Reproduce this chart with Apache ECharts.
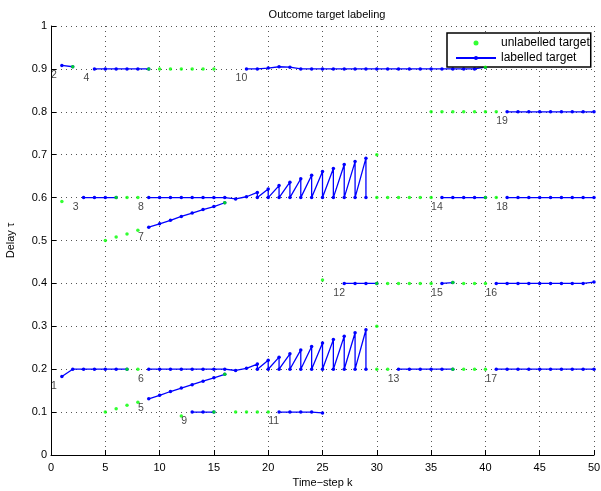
<!DOCTYPE html>
<html>
<head>
<meta charset="utf-8">
<script src="https://cdn.jsdelivr.net/npm/echarts@6/dist/echarts.min.js"></script>
<style>
html, body { margin: 0; padding: 0; background: #fff; }
#chart { width: 601px; height: 491px; }
</style>
</head>
<body>
<div id="chart"></div>
<script>
// Axis ticks
const kTicks = [0, 5, 10, 15, 20, 25, 30, 35, 40, 45, 50];
const tauTicks = [0, 0.1, 0.2, 0.3, 0.4, 0.5, 0.6, 0.7, 0.8, 0.9, 1];
const tauTickLabels = ['0', '0.1', '0.2', '0.3', '0.4', '0.5', '0.6', '0.7', '0.8', '0.9', '1'];

// Labelled tracks: [time-step k, delay tau]
const track1 = [[1,0.183],[2,0.2],[3,0.2],[4,0.2],[5,0.2],[6,0.2],[7,0.2]];
const track2 = [[1,0.908],[2,0.905]];
const track3 = [[3,0.6],[4,0.6],[5,0.6],[6,0.6]];
const track4 = [[4,0.9],[5,0.9],[6,0.9],[7,0.9],[8,0.9],[9,0.9]];
const track5 = [[9,0.131],[10,0.139],[11,0.148],[12,0.156],[13,0.164],[14,0.172],[15,0.180],[16,0.188]];
const track6 = [[9,0.2],[10,0.2],[11,0.2],[12,0.2],[13,0.2],[14,0.2],[15,0.2],[16,0.2],[17,0.197],[18,0.202],
  [19,0.212],[19,0.2],[20,0.221],[20,0.2],[21,0.228],[21,0.2],[22,0.236],[22,0.2],[23,0.245],[23,0.2],
  [24,0.253],[24,0.2],[25,0.261],[25,0.2],[26,0.269],[26,0.2],[27,0.277],[27,0.2],[28,0.285],[28,0.2],
  [29,0.292],[29,0.2]];
const track7 = [[9,0.531],[10,0.539],[11,0.547],[12,0.556],[13,0.564],[14,0.572],[15,0.579],[16,0.588]];
const track8 = [[9,0.6],[10,0.6],[11,0.6],[12,0.6],[13,0.6],[14,0.6],[15,0.6],[16,0.6],[17,0.597],[18,0.602],
  [19,0.612],[19,0.6],[20,0.62],[20,0.6],[21,0.628],[21,0.6],[22,0.636],[22,0.6],[23,0.644],[23,0.6],
  [24,0.652],[24,0.6],[25,0.661],[25,0.6],[26,0.668],[26,0.6],[27,0.677],[27,0.6],[28,0.684],[28,0.6],
  [29,0.692],[29,0.6]];
const track9 = [[13,0.1],[14,0.1],[15,0.1]];
const track10 = [[18,0.9],[19,0.9],[20,0.902],[21,0.905],[22,0.904],[23,0.9],[24,0.9],[25,0.9],[26,0.9],
  [27,0.9],[28,0.9],[29,0.9],[30,0.9],[31,0.9],[32,0.9],[33,0.9],[34,0.9],[35,0.9],[36,0.9],[37,0.9],
  [38,0.9],[39,0.9],[40,0.904]];
const track11 = [[21,0.1],[22,0.1],[23,0.1],[24,0.1],[25,0.098]];
const track12 = [[27,0.4],[28,0.4],[29,0.4],[30,0.4]];
const track13 = [[32,0.2],[33,0.2],[34,0.2],[35,0.2],[36,0.2],[37,0.2]];
const track14 = [[36,0.6],[37,0.6],[38,0.6],[39,0.6],[40,0.6]];
const track15 = [[36,0.4],[37,0.402]];
const track16 = [[41,0.4],[42,0.4],[43,0.4],[44,0.4],[45,0.4],[46,0.4],[47,0.4],[48,0.4],[49,0.4],[50,0.403]];
const track17 = [[41,0.2],[42,0.2],[43,0.2],[44,0.2],[45,0.2],[46,0.2],[47,0.2],[48,0.2],[49,0.2],[50,0.2]];
const track18 = [[42,0.6],[43,0.6],[44,0.6],[45,0.6],[46,0.6],[47,0.6],[48,0.6],[49,0.6],[50,0.6]];
const track19 = [[42,0.8],[43,0.8],[44,0.8],[45,0.8],[46,0.8],[47,0.8],[48,0.8],[49,0.8],[50,0.8]];

// Measurements not assigned to a labelled track
const unlabelled = [
  [1,0.591],[2,0.905],
  [5,0.1],[6,0.108],[7,0.116],[8,0.123],
  [5,0.5],[6,0.508],[7,0.515],[8,0.524],
  [6,0.6],[7,0.6],[8,0.6],
  [7,0.2],[8,0.2],
  [9,0.9],[10,0.9],[11,0.9],[12,0.9],[13,0.9],[14,0.9],[15,0.9],
  [12,0.091],[15,0.1],[17,0.1],[18,0.1],[19,0.1],[20,0.1],
  [16,0.188],[16,0.588],
  [25,0.408],
  [30,0.3],[30,0.2],[31,0.2],
  [30,0.7],[30,0.6],[31,0.6],[32,0.6],[33,0.6],[34,0.6],[35,0.6],
  [30,0.4],[31,0.4],[32,0.4],[33,0.4],[34,0.4],[35,0.4],
  [37,0.402],[38,0.4],[39,0.4],[40,0.4],
  [37,0.2],[38,0.2],[39,0.2],[40,0.2],
  [40,0.6],[41,0.6],
  [40,0.904],
  [35,0.8],[36,0.8],[37,0.8],[38,0.8],[39,0.8],[40,0.8],[41,0.8]
];

const tracks = [track1, track2, track3, track4, track5, track6, track7, track8, track9, track10,
  track11, track12, track13, track14, track15, track16, track17, track18, track19];

const BLUE = '#0000ff';
const GREEN = '#00ff00';
const FONT = 'Liberation Sans, Arial, Helvetica, sans-serif';

const chart = echarts.init(document.getElementById('chart'), null, { renderer: 'canvas' });

const series = [];
tracks.forEach(function (t) {
  series.push({
    name: 'labelled target',
    type: 'line',
    data: t,
    symbol: 'circle',
    symbolSize: 3.5,
    showSymbol: true,
    lineStyle: { color: BLUE, width: 1.3 },
    itemStyle: { color: BLUE },
    z: 3,
    silent: true
  });
});

series.push({
  name: 'unlabelled target',
  type: 'scatter',
  data: unlabelled,
  symbol: 'circle',
  symbolSize: 3.5,
  itemStyle: { color: GREEN },
  z: 4,
  silent: true
});

// Track numbers written just below-left of each track's first point
series.push({
  type: 'scatter',
  data: tracks.map(function (t, i) {
    return { value: [t[0][0] - 1, t[0][1] - 0.022], name: String(i + 1) };
  }),
  symbolSize: 0,
  label: {
    show: true,
    position: 'right',
    distance: 0,
    formatter: '{b}',
    fontFamily: FONT,
    fontSize: 10.5,
    color: '#111'
  },
  z: 5,
  silent: true
});

chart.setOption({
  animation: false,
  backgroundColor: '#fff',
  title: {
    text: 'Outcome target labeling',
    left: 322,
    textAlign: 'center',
    top: 4,
    textStyle: { fontFamily: FONT, fontSize: 11, fontWeight: 'normal', color: '#000' }
  },
  legend: {
    data: [
      { name: 'unlabelled target' },
      { name: 'labelled target' }
    ],
    orient: 'vertical',
    left: 447,
    top: 33,
    padding: [3, 1, 2, 8],
    itemGap: 1,
    itemWidth: 40,
    itemHeight: 5,
    itemTextGap: 1,
    borderColor: '#000',
    borderWidth: 1.5,
    borderRadius: 0,
    backgroundColor: '#fff',
    selectedMode: false,
    textStyle: { fontFamily: FONT, fontSize: 12, color: '#000', lineHeight: 14 }
  },
  grid: { left: 51, right: 7, top: 26, bottom: 36, containLabel: false, outerBoundsMode: 'none' },
  xAxis: {
    type: 'value',
    min: kTicks[0],
    max: kTicks[kTicks.length - 1],
    interval: kTicks[1] - kTicks[0],
    name: 'Time\u2212step k',
    nameLocation: 'middle',
    nameGap: 20,
    nameTextStyle: { fontFamily: FONT, fontSize: 11, color: '#000' },
    axisLine: { lineStyle: { color: '#000', width: 1 } },
    axisTick: { inside: true, length: 5, lineStyle: { color: '#000' } },
    axisLabel: { fontFamily: FONT, fontSize: 11, color: '#000', margin: 7 },
    splitLine: { show: true, lineStyle: { color: '#555', type: [1, 4], width: 1 } }
  },
  yAxis: {
    type: 'value',
    min: tauTicks[0],
    max: tauTicks[tauTicks.length - 1],
    interval: 0.1,
    name: 'Delay \u03c4',
    nameLocation: 'middle',
    nameGap: 35,
    nameTextStyle: { fontFamily: FONT, fontSize: 11, color: '#000' },
    axisLine: { show: true, lineStyle: { color: '#000', width: 1 } },
    axisTick: { show: true, inside: true, length: 5, lineStyle: { color: '#000' } },
    axisLabel: {
      fontFamily: FONT, fontSize: 11, color: '#000', margin: 4,
      formatter: function (v) {
        const i = tauTicks.findIndex(function (t) { return Math.abs(t - v) < 1e-6; });
        return i >= 0 ? tauTickLabels[i] : '';
      }
    },
    splitLine: { show: true, lineStyle: { color: '#555', type: [1, 4], width: 1 } }
  },
  series: series
});
</script>
</body>
</html>
